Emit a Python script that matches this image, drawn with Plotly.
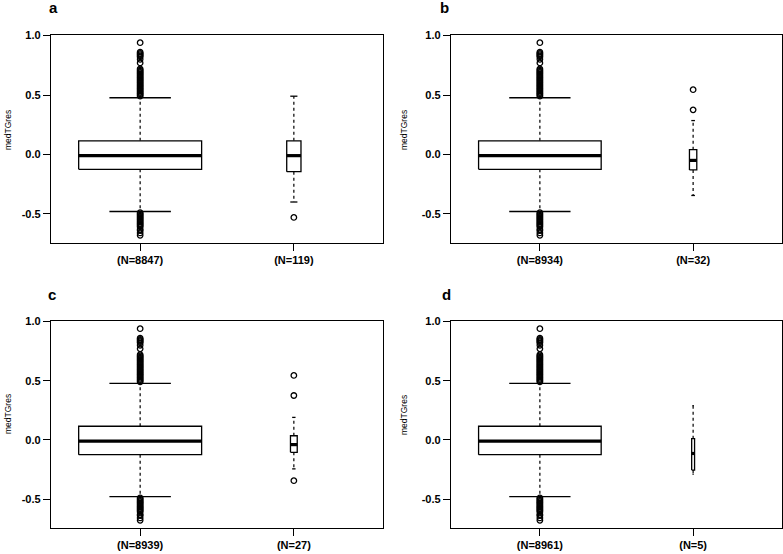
import plotly.graph_objects as go

# ---------------- data ----------------
panel_letters = ["a", "b", "c", "d"]
n_large = [8847, 8934, 8939, 8961]
n_small = [119, 32, 27, 5]

large_lw = [-0.48, -0.48, -0.48, -0.48]
large_q1 = [-0.125, -0.125, -0.125, -0.125]
large_med = [-0.01, -0.01, -0.01, -0.01]
large_q3 = [0.115, 0.115, 0.115, 0.115]
large_uw = [0.477, 0.477, 0.477, 0.477]
large_out_upper = [0.49, 0.50, 0.51, 0.52, 0.53, 0.54, 0.55, 0.56, 0.57, 0.58, 0.59,
                   0.60, 0.61, 0.62, 0.63, 0.64, 0.65, 0.66, 0.67, 0.68, 0.69, 0.70,
                   0.71, 0.72, 0.77, 0.80, 0.82, 0.83, 0.84, 0.85, 0.86, 0.94]
large_out_lower = [-0.49, -0.50, -0.51, -0.52, -0.53, -0.54, -0.55, -0.56, -0.57,
                   -0.58, -0.59, -0.60, -0.61, -0.63, -0.64, -0.66, -0.68]

small_lw = [-0.40, -0.345, -0.245, -0.29]
small_q1 = [-0.145, -0.13, -0.105, -0.255]
small_med = [-0.01, -0.05, -0.04, -0.115]
small_q3 = [0.115, 0.04, 0.035, 0.01]
small_uw = [0.49, 0.285, 0.19, 0.29]
small_out = [[-0.53], [0.545, 0.375], [0.545, 0.375, -0.345], []]

y_tick_vals = [-0.5, 0.0, 0.5, 1.0]
y_tick_text = ["-0.5", "0.0", "0.5", "1.0"]
y_title = "medTGres"

# ---------------- layout geometry (pixels) ----------------
W, H = 783, 554
x_dom_px = [(51, 383), (451, 782), (51, 383), (451, 782)]
y_dom_px = [(35, 243), (35, 243), (321, 528), (321, 528)]
letter_pos = [(53, 8), (445, 8), (52, 294), (446, 294)]
ytitle_pos = [(8, 130), (404, 130), (8, 414), (404, 415)]

FONT = "Liberation Sans, Arial, Helvetica, sans-serif"
fig = go.Figure()


def add_box(ax, center, half_w, lw, q1, med, q3, uw, outliers):
    xa, ya = ("x" if ax == 1 else f"x{ax}"), ("y" if ax == 1 else f"y{ax}")
    common = dict(xaxis=xa, yaxis=ya, mode="lines", showlegend=False, hoverinfo="skip")
    # whiskers (dashed)
    fig.add_trace(go.Scatter(x=[center, center, None, center, center],
                             y=[q3, uw, None, q1, lw],
                             line=dict(color="black", width=1.2, dash="3px,3px"), **common))
    # staples
    sw = half_w / 2
    fig.add_trace(go.Scatter(x=[center - sw, center + sw, None, center - sw, center + sw],
                             y=[uw, uw, None, lw, lw],
                             line=dict(color="black", width=1.3), **common))
    # box
    fig.add_trace(go.Scatter(x=[center - half_w, center + half_w, center + half_w, center - half_w, center - half_w],
                             y=[q1, q1, q3, q3, q1], fill="toself", fillcolor="white",
                             line=dict(color="black", width=1.3), **common))
    # median
    fig.add_trace(go.Scatter(x=[center - half_w, center + half_w], y=[med, med],
                             line=dict(color="black", width=3.2), **common))
    # outliers
    if outliers:
        fig.add_trace(go.Scatter(x=[center] * len(outliers), y=outliers, xaxis=xa, yaxis=ya,
                                 mode="markers", showlegend=False, hoverinfo="skip",
                                 marker=dict(symbol="circle-open", size=5.5, color="black",
                                             line=dict(width=1.3, color="black"))))


layout = dict(template="none", width=W, height=H, margin=dict(l=0, r=0, t=0, b=0, autoexpand=False),
              paper_bgcolor="white", plot_bgcolor="white", showlegend=False,
              font=dict(family=FONT, color="black"))
annotations = []

for i in range(4):
    ax = i + 1
    nmax = max(n_large[i], n_small[i])
    hw_large = 0.4 * (n_large[i] / nmax) ** 0.5
    hw_small = 0.4 * (n_small[i] / nmax) ** 0.5
    out_large = large_out_upper + large_out_lower
    add_box(ax, 1, hw_large, large_lw[i], large_q1[i], large_med[i], large_q3[i], large_uw[i], out_large)
    add_box(ax, 2, hw_small, small_lw[i], small_q1[i], small_med[i], small_q3[i], small_uw[i], small_out[i])

    all_y = out_large + small_out[i] + [large_lw[i], large_uw[i], small_lw[i], small_uw[i]]
    ymin, ymax = min(all_y), max(all_y)
    ext = 0.04 * (ymax - ymin)

    xl, xr = x_dom_px[i]
    yt, yb = y_dom_px[i]
    xname = "xaxis" if ax == 1 else f"xaxis{ax}"
    yname = "yaxis" if ax == 1 else f"yaxis{ax}"
    layout[xname] = dict(domain=[xl / W, xr / W], range=[0.42, 2.58], anchor=("y" if ax == 1 else f"y{ax}"),
                         automargin=False,
                         tickvals=[1, 2], ticktext=[f"(N={n_large[i]})", f"(N={n_small[i]})"],
                         ticks="outside", ticklen=7, tickwidth=1.2, tickcolor="black",
                         showline=True, mirror=True, linecolor="black", linewidth=1.3,
                         showgrid=False, zeroline=False,
                         tickfont=dict(family=FONT, size=11, color="black", weight="bold"))
    layout[yname] = dict(domain=[1 - yb / H, 1 - yt / H], range=[ymin - ext, ymax + ext],
                         anchor=("x" if ax == 1 else f"x{ax}"), automargin=False,
                         tickvals=y_tick_vals, ticktext=y_tick_text,
                         ticks="outside", ticklen=7, tickwidth=1.2, tickcolor="black",
                         showline=True, mirror=True, linecolor="black", linewidth=1.3,
                         showgrid=False, zeroline=False,
                         tickfont=dict(family=FONT, size=11, color="black", weight="bold"))

    lx, ly = letter_pos[i]
    annotations.append(dict(text=panel_letters[i], x=lx / W, y=1 - ly / H, xref="paper", yref="paper",
                            showarrow=False, xanchor="center", yanchor="middle",
                            font=dict(family=FONT, size=15, color="black", weight="bold")))
    tx, ty = ytitle_pos[i]
    annotations.append(dict(text=y_title, x=tx / W, y=1 - ty / H, xref="paper", yref="paper",
                            showarrow=False, xanchor="center", yanchor="middle", textangle=-90,
                            font=dict(family=FONT, size=8.5, color="black")))

layout["annotations"] = annotations
fig.update_layout(**layout)
fig.write_html("out.html", config={"displayModeBar": False},
               post_script="document.body.style.margin='0';document.body.style.overflow='hidden';")
